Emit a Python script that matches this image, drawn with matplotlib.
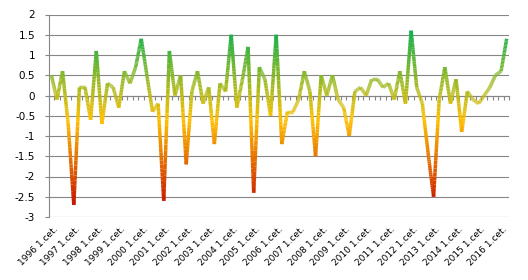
import numpy as np
import matplotlib
matplotlib.use("Agg")
import matplotlib.pyplot as plt
from matplotlib.collections import LineCollection
from matplotlib.colors import LinearSegmentedColormap, Normalize
import matplotlib.transforms as mtransforms

# ---- data (quarterly, 1996 Q1 .. 2016 Q2) ----
values = [0.5, -0.1, 0.6, -0.7, -2.7, 0.2, 0.2, -0.6, 1.1, -0.7,
          0.3, 0.2, -0.3, 0.6, 0.3, 0.7, 1.4, 0.5, -0.4, -0.2,
          -2.6, 1.1, 0.0, 0.5, -1.7, 0.1, 0.6, -0.2, 0.2, -1.2,
          0.3, 0.1, 1.5, -0.3, 0.4, 1.2, -2.4, 0.7, 0.4, -0.5,
          1.5, -1.2, -0.4, -0.4, -0.1, 0.6, 0.1, -1.5, 0.5, 0.0,
          0.5, -0.1, -0.3, -1.0, 0.1, 0.2, 0.0, 0.4, 0.4, 0.2,
          0.3, -0.1, 0.6, -0.2, 1.6, 0.2, -0.2, -1.4, -2.5, -0.1,
          0.7, -0.2, 0.4, -0.9, 0.1, -0.1, -0.2, 0.0, 0.2, 0.5,
          0.6, 1.4]
tick_labels = ["1996 1.cet.", "1997 1.cet.", "1998 1.cet.", "1999 1.cet.",
               "2000 1.cet.", "2001 1.cet.", "2002 1.cet.", "2003 1.cet.",
               "2004 1.cet.", "2005 1.cet.", "2006 1.cet.", "2007 1.cet.",
               "2008 1.cet.", "2009 1.cet.", "2010 1.cet.", "2011 1.cet.",
               "2012 1.cet.", "2013 1.cet.", "2014 1.cet.", "2015 1.cet.",
               "2016 1.cet."]
label_step = 4
y_ticks = [-3, -2.5, -2, -1.5, -1, -0.5, 0, 0.5, 1, 1.5, 2]

W, H = 528, 280
fig = plt.figure(figsize=(W / 100, H / 100), dpi=100)
left, right, top, bottom = 48.5, 509.5, 14.5, 217.0
ax = fig.add_axes([left / W, 1 - bottom / H, (right - left) / W, (bottom - top) / H])

n = len(values)
x = np.arange(n)
y = np.array(values, dtype=float)

ax.set_xlim(-0.5, n - 0.5)
ax.set_ylim(min(y_ticks), max(y_ticks))

grid_c = "#868686"
ax.set_yticks(y_ticks)
ax.set_yticklabels([f"{v:g}" for v in y_ticks])
ax.yaxis.grid(True, color=grid_c, lw=0.8)
ax.set_axisbelow(True)
ax.tick_params(axis="y", length=3, width=0.8, color=grid_c, pad=6.5,
               labelsize=7.5, labelcolor="black")

for s in ("top", "right"):
    ax.spines[s].set_visible(False)
ax.spines["left"].set_color(grid_c)
ax.spines["left"].set_linewidth(0.8)
ax.spines["bottom"].set_position(("data", 0))
ax.spines["bottom"].set_color(grid_c)
ax.spines["bottom"].set_linewidth(0.8)
ax.set_xticks(np.arange(-0.5, n, 1.0))
ax.tick_params(axis="x", direction="out", length=3, width=0.8, color=grid_c,
               labelbottom=False)

# ---- gradient line ----
vmin, vmax = y.min(), y.max()
ymid = -0.6
cmap = LinearSegmentedColormap.from_list(
    "rg", [(0.0, "#c81400"), ((ymid - vmin) / (vmax - vmin), "#ffc000"),
           (1.0, "#10b050")])
norm = Normalize(vmin, vmax)
segs, cols = [], []
sub = 24
for k in range(n - 1):
    t = np.linspace(0, 1, sub + 1)
    xs = x[k] + (x[k + 1] - x[k]) * t
    ys = y[k] + (y[k + 1] - y[k]) * t
    for j in range(sub):
        segs.append([(xs[j], ys[j]), (xs[j + 1], ys[j + 1])])
        cols.append(cmap(norm(0.5 * (ys[j] + ys[j + 1]))))
lc = LineCollection(segs, colors=cols, linewidths=2.5, capstyle="butt",
                    joinstyle="round", zorder=3)
ax.add_collection(lc)

# ---- category labels ----
trans = mtransforms.blended_transform_factory(ax.transData, ax.transAxes)
for j, lab in enumerate(tick_labels):
    ax.annotate(lab, xy=(j * label_step, 0), xycoords=trans,
                xytext=(5, -11), textcoords="offset pixels",
                rotation=45, ha="right", va="center", rotation_mode="anchor",
                fontsize=6.5, color="black")

fig.savefig("out.png", dpi=100)
